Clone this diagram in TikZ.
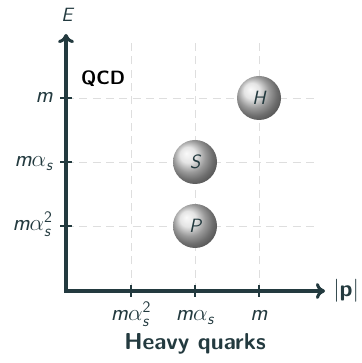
\documentclass[tikz,border=0pt]{standalone}
\usepackage{amsmath}
\usepackage{tikz}
\usetikzlibrary{arrows.meta, positioning, shadings}
\definecolor{axisdark}{HTML}{233A3F}
\definecolor{gridsoft}{HTML}{DEDEDE}
\tikzset{
  >={To[length=2.4mm,width=4.2mm]},
  font=\sffamily,
  axisline/.style={line width=2.3pt, draw=axisdark},
  tickmark/.style={line width=2.1pt, draw=axisdark},
  gridline/.style={draw=gridsoft, dash pattern=on 6pt off 4pt, line width=0.7pt},
  ballnode/.style={circle, ball color=gray!28, minimum size=33pt, inner sep=0pt,
    text=axisdark, font=\Large\sffamily\itshape},
  ticklab/.style={text=axisdark, font=\LARGE\sffamily\itshape, inner sep=0pt},
  headlab/.style={font=\LARGE\bfseries\sffamily}
}
\newcommand{\mA}{\textit{m}$\alpha_{\textit{s}}$}
\newcommand{\mAA}{\textit{m}$\alpha_{\textit{s}}^{\textup{2}}$}

\begin{document}
\begin{tikzpicture}[x=0.75pt,y=0.75pt]
  \useasboundingbox (0,0) rectangle (361,363);
  \coordinate (O) at (66,72);
  \coordinate (xend) at (325,72);
  \coordinate (yend) at (66,329);
  % dashed grid
  \foreach \x in {131,195,259} \draw[gridline] (\x,72) -- (\x,321);
  \foreach \y in {137,201,265} \draw[gridline] (66,\y) -- (315,\y);
  % axes
  \draw[axisline,<->,line join=miter] (yend) |- (xend);
  \foreach \x in {131,195,259} \draw[tickmark] (\x,66) -- (\x,78);
  \foreach \y in {137,201,265} \draw[tickmark] (60,\y) -- (72,\y);
  % axis labels
  \node[ticklab,font=\Large\sffamily\itshape] (E) at (67,348) {E};
  \node[ticklab,font=\LARGE\sffamily,anchor=west] (p) at (333,72) {$|$\textbf{p}$|$};
  \node[ticklab,anchor=base east] (ym) at (53,260) {\textit{m}};
  \node[ticklab,anchor=base east] (yma) at (53,196) {\mA};
  \node[ticklab,anchor=base east] (ymaa) at (53,132) {\mAA};
  \node[ticklab,anchor=base] (xmaa) at (131,42) {\mAA};
  \node[ticklab,anchor=base] (xma) at (195,42) {\mA};
  \node[ticklab,anchor=base] (xm) at (259,42) {\textit{m}};
  % bound states
  \node[ballnode] (H) at (259,265) {H};
  \node[ballnode] (S) at (195,201) {S};
  \node[ballnode] (P) at (195,137) {P};
  \node[headlab,font=\Large\bfseries\sffamily] (QCD) at (103,284) {QCD};
  \node[headlab,text=axisdark] (title) at (195,19) {Heavy quarks};
\end{tikzpicture}
\end{document}
